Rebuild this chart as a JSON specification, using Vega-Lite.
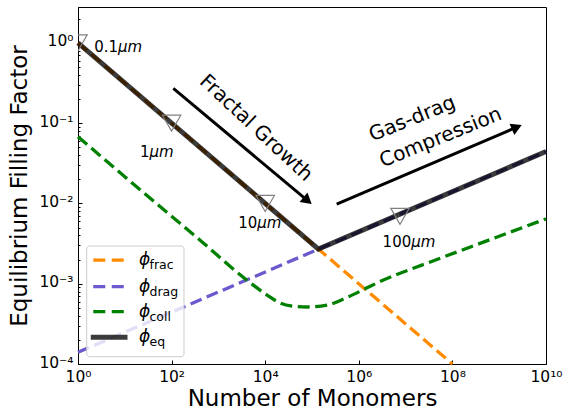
{
  "$schema": "https://vega.github.io/schema/vega-lite/v6.json",
  "width": 468,
  "height": 357,
  "autosize": {"type": "none"},
  "padding": {"left": 78, "top": 7, "right": 17, "bottom": 51},
  "config": {
    "font": "DejaVu Sans",
    "view": {"stroke": "black", "strokeWidth": 1},
    "axis": {"grid": false, "domainColor": "black", "domainWidth": 1, "tickColor": "black", "tickWidth": 1, "labelColor": "black", "titleColor": "black", "labelFont": "DejaVu Sans", "titleFont": "DejaVu Sans", "titleFontWeight": "normal"}
  },
  "datasets": {
    "frac": [{"x": 1, "y": 1}, {"x": 100000000, "y": 0.0001}],
    "drag": [{"x": 1, "y": 0.00014}, {"x": 10000000000, "y": 0.0443}],
    "coll": [
      {"x": 1, "y": 0.0678},
      {"x": 10, "y": 0.02153},
      {"x": 100, "y": 0.00692},
      {"x": 468, "y": 0.00324},
      {"x": 4266, "y": 0.001081},
      {"x": 10965, "y": 0.000723},
      {"x": 20893, "y": 0.000575},
      {"x": 39811, "y": 0.000525},
      {"x": 77625, "y": 0.000513},
      {"x": 208930, "y": 0.000543},
      {"x": 562341, "y": 0.000676},
      {"x": 1348963, "y": 0.000863},
      {"x": 2818383, "y": 0.001062},
      {"x": 31622777, "y": 0.00184},
      {"x": 389045145, "y": 0.00318},
      {"x": 10000000000, "y": 0.00643}
    ],
    "eq": [{"x": 1, "y": 1}, {"x": 137000, "y": 0.0027}, {"x": 10000000000, "y": 0.0443}],
    "markers": [{"x": 1, "y": 1}, {"x": 100, "y": 0.1}, {"x": 10000, "y": 0.01}, {"x": 7600000, "y": 0.0069}],
    "sizenum": [
      {"x": 7.16, "y": 0.887, "t": "0.1"},
      {"x": 33.7, "y": 0.044, "t": "1"},
      {"x": 6780, "y": 0.00565, "t": "10"},
      {"x": 13200000, "y": 0.00334, "t": "100"}
    ],
    "sizeunit": [
      {"x": 7.16, "y": 0.887, "t": "μm"},
      {"x": 33.7, "y": 0.044, "t": "μm"},
      {"x": 6780, "y": 0.00565, "t": "μm"},
      {"x": 13200000, "y": 0.00334, "t": "μm"}
    ],
    "arrows": [
      {"x": 108.8, "y": 0.271, "x2": 80500, "y2": 0.01084},
      {"x": 337000, "y": 0.0098, "x2": 2380000000, "y2": 0.0891}
    ],
    "heads": [
      {"x": 80500, "y": 0.01084, "a": 130},
      {"x": 2380000000, "y": 0.0891, "a": 67}
    ],
    "fractal": [{"x": 6360, "y": 0.0869, "t": "Fractal Growth"}],
    "gasdrag": [{"x": 1940000, "y": 0.0592, "t": "Gas-drag\nCompression"}],
    "legbox": [{"x": 1.535, "x2": 184, "y": 0.00295, "y2": 0.0001233}],
    "legfrac": [{"x": 2.12, "x2": 10.1, "y": 0.001972}],
    "legdrag": [{"x": 2.12, "x2": 10.1, "y": 0.000918}],
    "legcoll": [{"x": 2.12, "x2": 10.1, "y": 0.000448}],
    "legeq": [{"x": 2.12, "x2": 10.1, "y": 0.0002153}],
    "legphi": [
      {"x": 20.1, "y": 0.001972, "t": "ϕ"},
      {"x": 20.1, "y": 0.000918, "t": "ϕ"},
      {"x": 20.1, "y": 0.000448, "t": "ϕ"},
      {"x": 20.1, "y": 0.0002153, "t": "ϕ"}
    ],
    "legsub": [
      {"x": 33.7, "y": 0.001708, "t": "frac"},
      {"x": 33.7, "y": 0.000795, "t": "drag"},
      {"x": 33.7, "y": 0.000388, "t": "coll"},
      {"x": 33.7, "y": 0.0001865, "t": "eq"}
    ]
  },
  "encoding": {
    "x": {
      "field": "x", "type": "quantitative",
      "scale": {"type": "log", "domain": [1, 10000000000], "nice": false},
      "axis": {
        "title": "Number of Monomers", "titleFontSize": 23, "titlePadding": 2,
        "values": [1, 100, 10000, 1000000, 100000000, 10000000000],
        "labelExpr": "datum.value < 10 ? '10⁰' : datum.value < 1000 ? '10²' : datum.value < 100000 ? '10⁴' : datum.value < 10000000 ? '10⁶' : datum.value < 1000000000 ? '10⁸' : '10¹⁰'",
        "labelFontSize": 15.5, "tickSize": -4, "labelPadding": 9.5, "labelFlush": false, "labelOverlap": false
      }
    },
    "y": {
      "field": "y", "type": "quantitative",
      "scale": {"type": "log", "domain": [0.0001, 2.8], "nice": false},
      "axis": {
        "title": "Equilibrium Filling Factor", "titleFontSize": 23, "titlePadding": 7,
        "values": [0.0001, 0.0002, 0.0003, 0.0004, 0.0005, 0.0006, 0.0007, 0.0008, 0.0009, 0.001, 0.002, 0.003, 0.004, 0.005, 0.006, 0.007, 0.008, 0.009, 0.01, 0.02, 0.03, 0.04, 0.05, 0.06, 0.07, 0.08, 0.09, 0.1, 0.2, 0.3, 0.4, 0.5, 0.6, 0.7, 0.8, 0.9, 1, 2],
        "labelExpr": "datum.value == 1 ? '10⁰' : datum.value == 0.1 ? '10⁻¹' : datum.value == 0.01 ? '10⁻²' : datum.value == 0.001 ? '10⁻³' : datum.value == 0.0001 ? '10⁻⁴' : ''",
        "tickSize": {"condition": {"test": "datum.value == 1 || datum.value == 0.1 || datum.value == 0.01 || datum.value == 0.001 || datum.value == 0.0001", "value": -4}, "value": -2},
        "labelFontSize": 15.5, "labelPadding": 9, "labelOffset": -2, "labelOverlap": false, "labelFlush": false
      }
    }
  },
  "layer": [
    {"data": {"name": "frac"}, "mark": {"type": "line", "color": "#ff8c00", "strokeWidth": 3.3, "strokeDash": [12, 5.5]}},
    {"data": {"name": "drag"}, "mark": {"type": "line", "color": "#6a5acd", "strokeWidth": 3.3, "strokeDash": [12, 5.5]}},
    {"data": {"name": "coll"}, "mark": {"type": "line", "color": "#008000", "strokeWidth": 3.3, "strokeDash": [12, 5.5], "interpolate": "monotone"}},
    {"data": {"name": "eq"}, "mark": {"type": "line", "color": "black", "opacity": 0.77, "strokeWidth": 5}},
    {"data": {"name": "markers"}, "mark": {"type": "point", "shape": "triangle-down", "size": 340, "filled": false, "color": "#808080", "strokeWidth": 1.2, "opacity": 1, "clip": true}},
    {"data": {"name": "sizenum"}, "mark": {"type": "text", "align": "right", "baseline": "middle", "fontSize": 15, "color": "black"}, "encoding": {"text": {"field": "t"}}},
    {"data": {"name": "sizeunit"}, "mark": {"type": "text", "align": "left", "baseline": "middle", "fontSize": 15, "fontStyle": "italic", "color": "black"}, "encoding": {"text": {"field": "t"}}},
    {"data": {"name": "arrows"}, "mark": {"type": "rule", "color": "black", "strokeWidth": 3}, "encoding": {"x2": {"field": "x2"}, "y2": {"field": "y2"}}},
    {"data": {"name": "heads"}, "mark": {"type": "point", "shape": "triangle-up", "size": 150, "filled": true, "color": "black", "opacity": 1}, "encoding": {"angle": {"field": "a", "type": "quantitative", "scale": null}}},
    {"data": {"name": "fractal"}, "mark": {"type": "text", "align": "center", "baseline": "middle", "fontSize": 20, "angle": 43, "color": "black"}, "encoding": {"text": {"field": "t"}}},
    {"data": {"name": "gasdrag"}, "mark": {"type": "text", "align": "left", "baseline": "alphabetic", "fontSize": 20, "angle": 338, "lineBreak": "\n", "lineHeight": 28, "color": "black"}, "encoding": {"text": {"field": "t"}}},
    {"data": {"name": "legbox"}, "mark": {"type": "rect", "fill": "white", "fillOpacity": 0.8, "stroke": "#cccccc", "strokeWidth": 1, "cornerRadius": 3}, "encoding": {"x2": {"field": "x2"}, "y2": {"field": "y2"}}},
    {"data": {"name": "legfrac"}, "mark": {"type": "rule", "color": "#ff8c00", "strokeWidth": 3.3, "strokeDash": [12, 6.5]}, "encoding": {"x2": {"field": "x2"}}},
    {"data": {"name": "legdrag"}, "mark": {"type": "rule", "color": "#6a5acd", "strokeWidth": 3.3, "strokeDash": [12, 6.5]}, "encoding": {"x2": {"field": "x2"}}},
    {"data": {"name": "legcoll"}, "mark": {"type": "rule", "color": "#008000", "strokeWidth": 3.3, "strokeDash": [12, 6.5]}, "encoding": {"x2": {"field": "x2"}}},
    {"data": {"name": "legeq"}, "mark": {"type": "rule", "color": "black", "opacity": 0.77, "strokeWidth": 5, "strokeCap": "square"}, "encoding": {"x2": {"field": "x2"}}},
    {"data": {"name": "legphi"}, "mark": {"type": "text", "align": "left", "baseline": "middle", "fontSize": 17, "fontStyle": "italic", "color": "black"}, "encoding": {"text": {"field": "t"}}},
    {"data": {"name": "legsub"}, "mark": {"type": "text", "align": "left", "baseline": "middle", "fontSize": 12.5, "color": "black"}, "encoding": {"text": {"field": "t"}}}
  ]
}
